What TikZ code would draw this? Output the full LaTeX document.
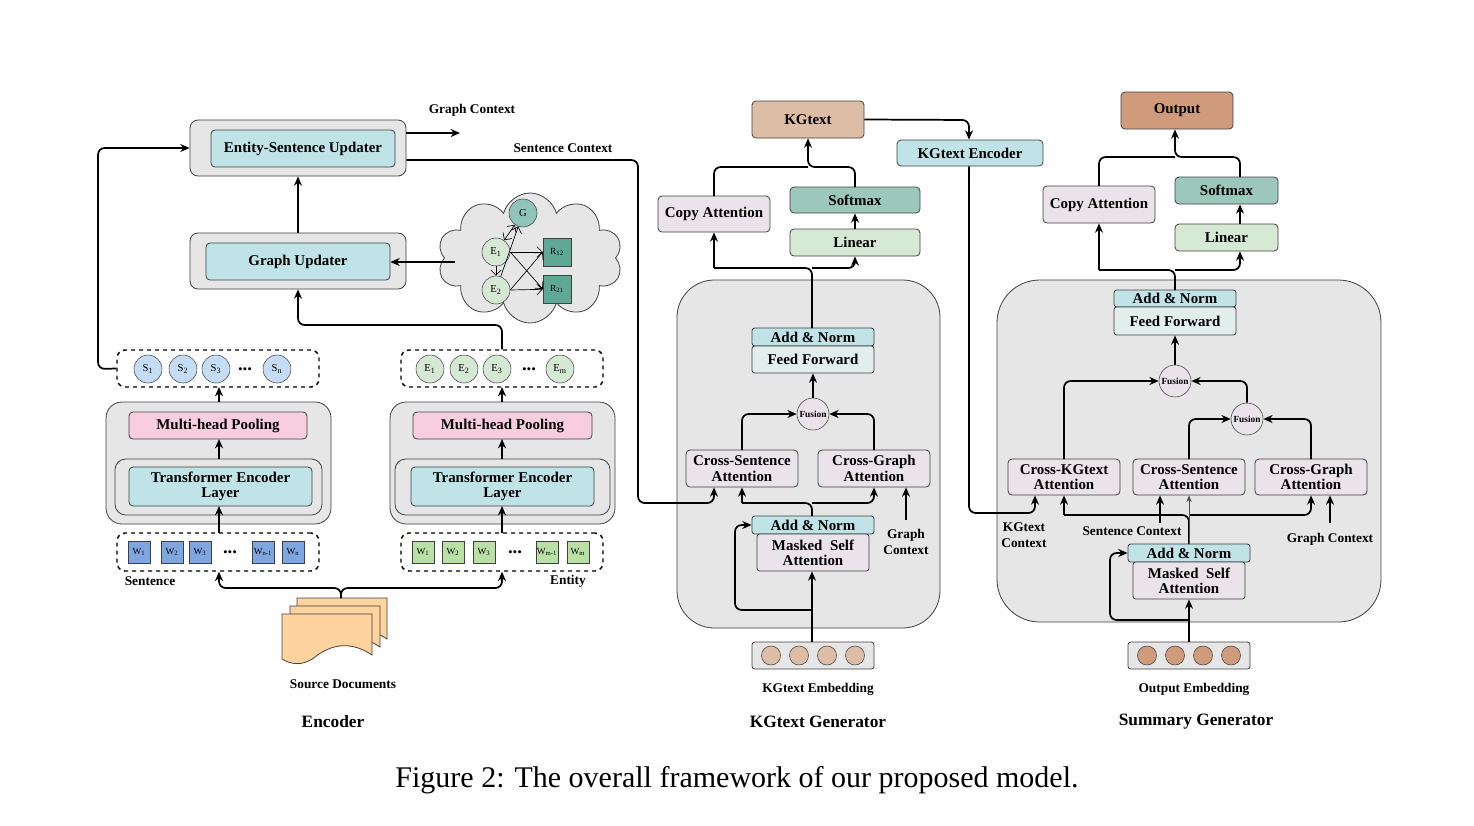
\documentclass[tikz,border=0pt]{standalone}
\usepackage{fontspec}
\setmainfont{Liberation Serif}
\usetikzlibrary{arrows.meta,shapes.symbols,shapes.geometric}
\definecolor{cyanF}{HTML}{BFE3E6}
\definecolor{grayF}{HTML}{E6E6E6}
\definecolor{pinkF}{HTML}{F8CEDF}
\definecolor{lavF}{HTML}{EAE3EA}
\definecolor{softF}{HTML}{9CC8BB}
\definecolor{linF}{HTML}{D6E9D5}
\definecolor{ffF}{HTML}{E2EEEC}
\definecolor{kgF}{HTML}{DDBDA6}
\definecolor{outF}{HTML}{D09B7B}
\definecolor{blueC}{HTML}{C4DDF5}
\definecolor{greenC}{HTML}{D5E8D4}
\definecolor{blueW}{HTML}{7EA6E0}
\definecolor{greenW}{HTML}{B9E0A5}
\definecolor{gC}{HTML}{8FC4B8}
\definecolor{rC}{HTML}{5FA896}
\definecolor{docF}{HTML}{FFD39E}
\newcommand{\B}[7][]{\node[bx,#1,minimum width={(#5-#3)*0.75pt},minimum height={(#6-#4)*0.75pt}] (#2) at ({(#3+#5)/2},{(#4+#6)/2}) {#7};}
\begin{document}
\begin{tikzpicture}[x=0.75pt,y=-0.75pt,
  bx/.style={draw=black!75,rounded corners=3pt,inner sep=0pt,align=center,font=\bfseries\fontsize{11.2}{11.5}\selectfont,line width=0.6pt},
  outer/.style={bx,fill=grayF,rounded corners=6pt},
  dbox/.style={bx,dashed,line width=1.1pt,draw=black,rounded corners=6pt},
  arr/.style={-{Stealth[length=7pt,width=6pt]},line width=1.3pt,rounded corners=5pt},
  ln/.style={line width=1.3pt,rounded corners=5pt},
  lab/.style={font=\bfseries\fontsize{10}{11.5}\selectfont,align=center},
  ttl/.style={font=\bfseries\fontsize{13}{15}\selectfont},
  crc/.style={circle,draw=black!75,inner sep=0pt,minimum size={28*0.75pt},font=\fontsize{8}{9}\selectfont},
  sq/.style={draw=black!75,inner sep=0pt,minimum size={22*0.75pt},font=\fontsize{7}{8}\selectfont},
  dots/.style={font=\bfseries\fontsize{14}{14}\selectfont},
  emb/.style={circle,draw=black!75,inner sep=0pt,minimum size={19*0.75pt}},
  fus/.style={circle,draw=black!75,fill=lavF,inner sep=0pt,minimum size={32*0.75pt},font=\bfseries\fontsize{7}{7}\selectfont},
  ga/.style={-{Straight Barb[length=4pt]},line width=0.5pt}]
\useasboundingbox (0,0) rectangle (1474,825);
% ===== Encoder =====
\B[outer]{esuO}{190}{120}{406}{176}{}
\B[fill=cyanF]{esu}{211}{130}{395}{167}{Entity-Sentence Updater}
\B[outer]{guO}{190}{233}{406}{289}{}
\B[fill=cyanF]{gu}{206}{243}{390}{280}{Graph Updater}
\node[lab] (gcl) at (472,110) {Graph Context};
\node[lab] (scl) at (563,148) {Sentence Context};
\coordinate (gcend) at (460,133);
\draw[arr] (esuO.east|-gcend) -- (gcend);
\draw[arr] (guO.north-|298,0) -- (esuO.south-|298,0);
% cloud
\node[cloud,cloud puffs=10,aspect=1.45,draw=black!75,fill=grayF,minimum width={185*0.75pt},minimum height={130*0.75pt},line width=0.6pt] (cl) at (530,258) {};
\node[crc,fill=gC] (G) at (523,213) {G};
\node[crc,fill=greenC] (E1g) at (496,252) {E\textsubscript{1}};
\node[crc,fill=greenC] (E2g) at (496,290) {E\textsubscript{2}};
\node[sq,fill=rC,minimum size={28*0.75pt}] (R12) at (557,252) {R\textsubscript{12}};
\node[sq,fill=rC,minimum size={28*0.75pt}] (R21) at (557,289) {R\textsubscript{21}};
\draw[ga,{Straight Barb[length=4pt]}-{Straight Barb[length=4pt]}] (E1g) -- (G);
\draw[ga] (E2g) -- (G);
\draw[ga] (E1g) -- (E2g);
\draw[ga] (E1g.east) -- (R12);
\draw[ga] (E1g.east) -- (R21.west);
\draw[ga] (E2g.east) -- (R12.west);
\draw[ga] (E2g.east) -- (R21);
\coordinate (clw) at (455,262);
\draw[arr] (clw) -- (gu.east|-clw);
% token boxes
\B[dbox]{sbox}{117}{350}{319}{387}{}
\node[crc,fill=blueC] (s1) at (148,369) {S\textsubscript{1}};
\node[crc,fill=blueC] (s2) at (183,369) {S\textsubscript{2}};
\node[crc,fill=blueC] (s3) at (216,369) {S\textsubscript{3}};
\node[dots] (sd) at (245,369) {...};
\node[crc,fill=blueC] (sn) at (277,369) {S\textsubscript{n}};
\B[dbox]{ebox}{401}{350}{603}{387}{}
\node[crc,fill=greenC] (e1) at (430,369) {E\textsubscript{1}};
\node[crc,fill=greenC] (e2) at (464,369) {E\textsubscript{2}};
\node[crc,fill=greenC] (e3) at (497,369) {E\textsubscript{3}};
\node[dots] (ed) at (529,369) {...};
\node[crc,fill=greenC] (em) at (560,369) {E\textsubscript{m}};
\draw[ln,-{Stealth[length=7pt,width=6pt]}] (sbox.west) -- (98,369) -- (98,148) -- (esuO.west|-0,148);
\draw[arr] (ebox.north-|502,0) -- (502,325) -- (298,325) -- (guO.south-|298,0);
% stacks
\B[outer,rounded corners=12pt]{lO}{106}{402}{331}{524}{}
\B[fill=pinkF]{lmhp}{129}{412}{307}{439}{Multi-head Pooling}
\B[outer,rounded corners=8pt]{lI}{115}{459}{322}{515}{}
\B[fill=cyanF]{ltel}{129}{467}{312}{506}{Transformer Encoder\\Layer}
\B[outer,rounded corners=12pt]{rO}{390}{402}{615}{524}{}
\B[fill=pinkF]{rmhp}{413}{412}{592}{439}{Multi-head Pooling}
\B[outer,rounded corners=8pt]{rI}{395}{459}{610}{515}{}
\B[fill=cyanF]{rtel}{411}{467}{594}{506}{Transformer Encoder\\Layer}
\draw[arr] (219,402) -- (219,387);
\draw[arr] (219,459) -- (219,439);
\draw[arr] (502,402) -- (502,387);
\draw[arr] (502,459) -- (502,439);
% word boxes
\B[dbox]{wl}{117}{533}{319}{571}{}
\node[sq,fill=blueW] (w1) at (139,552) {W\textsubscript{1}};
\node[sq,fill=blueW] (w2) at (172,552) {W\textsubscript{2}};
\node[sq,fill=blueW] (w3) at (200,552) {W\textsubscript{3}};
\node[dots] (wd) at (230,552) {...};
\node[sq,fill=blueW] (wn1) at (263,552) {W\textsubscript{n-1}};
\node[sq,fill=blueW] (wn) at (293,552) {W\textsubscript{n}};
\B[dbox]{wr}{401}{533}{603}{571}{}
\node[sq,fill=greenW] (v1) at (423,552) {W\textsubscript{1}};
\node[sq,fill=greenW] (v2) at (453,552) {W\textsubscript{2}};
\node[sq,fill=greenW] (v3) at (484,552) {W\textsubscript{3}};
\node[dots] (vd) at (515,552) {...};
\node[sq,fill=greenW] (vm1) at (547,552) {W\textsubscript{m-1}};
\node[sq,fill=greenW] (vm) at (578,552) {W\textsubscript{m}};
\draw[arr] (219,533) -- (219,506);
\draw[arr] (502,533) -- (502,506);
\node[lab] (slab) at (150,581) {Sentence};
\node[lab] (elab) at (568,581) {Entity};
% documents
\foreach \dx/\dy in {15/-16,8/-8,0/0}{
\draw[fill=docF,draw=black!75,line width=0.6pt] ({282+\dx},{614+\dy}) -- ({372+\dx},{614+\dy}) -- ({372+\dx},{655+\dy}) .. controls ({350+\dx},{640+\dy}) and ({330+\dx},{645+\dy}) .. ({315+\dx},{657+\dy}) .. controls ({302+\dx},{667+\dy}) and ({290+\dx},{664+\dy}) .. ({282+\dx},{659+\dy}) -- cycle;}
\node[inner sep=0pt,minimum width={104*0.75pt},minimum height={66*0.75pt}] (doc) at (334,631) {};
\draw[arr] (341,598) -- (341,588) -- (219,588) -- (wl.south-|219,0);
\draw[arr] (341,598) -- (341,588) -- (502,588) -- (wr.south-|502,0);
\node[lab] (sdl) at (343,684) {Source Documents};
\node[ttl] (enc) at (333,722) {Encoder};
% ===== KGtext Generator =====
\B[fill=kgF]{kg}{752}{101}{864}{138}{KGtext}
\B[fill=cyanF]{kge}{897}{140}{1043}{166}{KGtext Encoder}
\draw[arr] (kg.east) -- (969,120) -- (kge.north-|969,0);
\B[fill=lavF]{ca1}{658}{196}{770}{232}{Copy Attention}
\B[fill=softF]{sm1}{790}{187}{920}{213}{Softmax}
\B[fill=linF]{li1}{790}{229}{920}{256}{Linear}
\draw[ln] (714,196) -- (714,167) -- (808,167);
\draw[arr] (855,187) -- (855,167) -- (808,167) -- (kg.south-|808,0);
\draw[arr] (li1.north-|855,0) -- (sm1.south-|855,0);
\B[outer,rounded corners=28pt]{kgbig}{677}{280}{940}{628}{}
\B[fill=cyanF,rounded corners=2pt]{an1}{752}{328}{874}{346}{Add \& Norm}
\B[fill=ffF,rounded corners=2pt]{ff1}{752}{346}{874}{373}{Feed Forward}
\draw[ln] (812,328) -- (812,268) -- (714,268);
\draw[arr] (714,268) -- (ca1.south-|714,0);
\draw[arr] (812,268) -- (855,268) -- (li1.south-|855,0);
\node[fus] (f1) at (813,414) {Fusion};
\draw[arr] (f1.north) -- (ff1.south-|f1);
\B[fill=lavF]{csa1}{686}{450}{798}{487}{Cross-Sentence\\Attention}
\B[fill=lavF]{cga1}{818}{450}{930}{487}{Cross-Graph\\Attention}
\draw[arr] (742,450) -- (742,414) -- (f1.west);
\draw[arr] (874,450) -- (874,414) -- (f1.east);
\B[fill=cyanF,rounded corners=2pt]{an2}{752}{516}{874}{534}{Add \& Norm}
\B[fill=lavF,rounded corners=2pt]{msa1}{757}{534}{869}{571}{Masked\ \ Self\\Attention}
\draw[ln] (812,516) -- (812,503) -- (742,503);
\draw[arr] (742,503) -- (csa1.south-|742,0);
\draw[arr] (812,503) -- (874,503) -- (cga1.south-|874,0);
\draw[arr] (esuO.east|-0,160) -- (638,160) -- (638,503) -- (714,503) -- (csa1.south-|714,0);
\node[lab] (gcl2) at (906,542) {Graph\\Context};
\draw[arr] (906,520) -- (cga1.south-|906,0);
\B[fill=grayF,rounded corners=2pt]{emb1}{752}{642}{874}{669}{}
\foreach \cx in {771,799,827,855}{\node[emb,fill=kgF] at (\cx,655.5) {};}
\draw[arr] (emb1.north-|812,0) -- (msa1.south-|812,0);
\draw[arr] (812,610) -- (735,610) -- (735,525) -- (an2.west);
\node[lab] (kgel) at (818,689) {KGtext Embedding};
\node[ttl] (kgt) at (818,722) {KGtext Generator};
% ===== Summary Generator =====
\B[fill=outF]{out}{1121}{92}{1233}{129}{Output}
\B[fill=lavF]{ca2}{1043}{186}{1155}{223}{Copy Attention}
\B[fill=softF]{sm2}{1175}{177}{1278}{204}{Softmax}
\B[fill=linF]{li2}{1175}{224}{1278}{251}{Linear}
\draw[ln] (1099,186) -- (1099,157) -- (1175,157);
\draw[arr] (1240,177) -- (1240,157) -- (1175,157) -- (out.south-|1175,0);
\draw[arr] (li2.north-|1240,0) -- (sm2.south-|1240,0);
\B[outer,rounded corners=32pt]{sgbig}{997}{280}{1381}{622}{}
\B[fill=cyanF,rounded corners=2pt]{an3}{1114}{290}{1236}{307}{Add \& Norm}
\B[fill=ffF,rounded corners=2pt]{ff2}{1114}{307}{1236}{335}{Feed Forward}
\draw[ln] (1175,290) -- (1175,270) -- (1099,270);
\draw[arr] (1099,270) -- (ca2.south-|1099,0);
\draw[arr] (1175,270) -- (1240,270) -- (li2.south-|1240,0);
\node[fus] (f2) at (1175,381) {Fusion};
\node[fus] (f3) at (1247,419) {Fusion};
\draw[arr] (f2.north) -- (ff2.south-|f2);
\B[fill=lavF]{cka}{1008}{459}{1120}{495}{Cross-KGtext\\Attention}
\B[fill=lavF]{csa2}{1133}{459}{1245}{495}{Cross-Sentence\\Attention}
\B[fill=lavF]{cga2}{1255}{459}{1367}{495}{Cross-Graph\\Attention}
\draw[arr] (1064,459) -- (1064,381) -- (f2.west);
\draw[arr] (f3.north) -- (1247,381) -- (f2.east);
\draw[arr] (1189,459) -- (1189,419) -- (f3.west);
\draw[arr] (1311,459) -- (1311,419) -- (f3.east);
\B[fill=cyanF,rounded corners=2pt]{an4}{1128}{544}{1250}{562}{Add \& Norm}
\B[fill=lavF,rounded corners=2pt]{msa2}{1133}{562}{1245}{599}{Masked\ \ Self\\Attention}
\draw[ln] (1189,544) -- (1189,515) -- (1064,515);
\draw[arr] (1064,515) -- (cka.south-|1064,0);
\draw[arr] (1189,515) -- (1311,515) -- (cga2.south-|1311,0);
\draw[-{Stealth[length=5pt,width=4pt]},line width=0.7pt,draw=black!70] (an4.north-|1189,0) -- (csa2.south-|1189,0);
\node[lab] (scl2) at (1132,531) {Sentence Context};
\draw[arr] (1160,523) -- (csa2.south-|1160,0);
\draw[arr] (kge.south-|969,0) -- (969,513) -- (1035,513) -- (cka.south-|1035,0);
\node[lab] (kcl) at (1024,535) {KGtext\\Context};
\node[lab] (gcl3) at (1330,539) {Graph Context};
\draw[arr] (1330,523) -- (cga2.south-|1330,0);
\B[fill=grayF,rounded corners=2pt]{emb2}{1128}{642}{1250}{669}{}
\foreach \cx in {1147,1175,1203,1231}{\node[emb,fill=outF] at (\cx,655.5) {};}
\draw[arr] (emb2.north-|1189,0) -- (msa2.south-|1189,0);
\draw[arr] (1189,620) -- (1110,620) -- (1110,553) -- (an4.west);
\node[lab] (oel) at (1194,689) {Output Embedding};
\node[ttl] (sgt) at (1196,722) {Summary Generator};
% caption
\node[font=\fontsize{22.5}{26}\selectfont] (cap) at (737,780) {Figure 2: The overall framework of our proposed model.};
\end{tikzpicture}
\end{document}
